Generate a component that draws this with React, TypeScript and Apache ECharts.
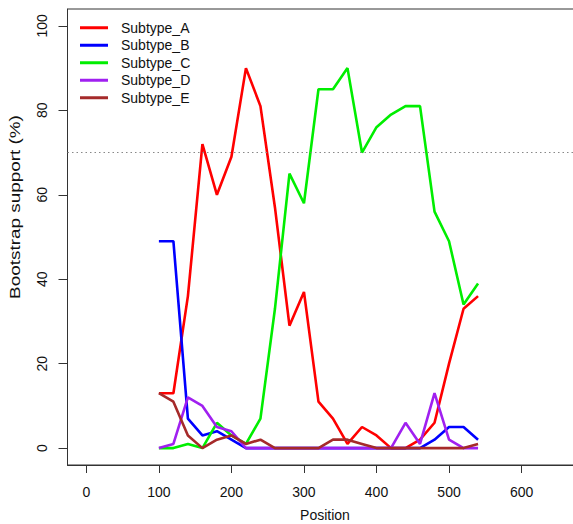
import React, { useEffect, useRef } from "react";
import * as echarts from "echarts";

const positions = [100, 120, 140, 160, 180, 200, 220, 240, 260, 280, 300, 320, 340, 360, 380, 400, 420, 440, 460, 480, 500, 520, 540];
const subtypeA = [13, 13, 36, 72, 60, 69, 90, 81, 57, 29, 37, 11, 7, 1, 5, 3, 0, 0, 2, 6, 20, 33, 36];
const subtypeB = [49, 49, 7, 3, 4, 2, 0, 0, 0, 0, 0, 0, 0, 0, 0, 0, 0, 0, 0, 2, 5, 5, 2];
const subtypeC = [0, 0, 1, 0, 6, 3, 1, 7, 33, 65, 58, 85, 85, 90, 70, 76, 79, 81, 81, 56, 49, 34, 39];
const subtypeD = [0, 1, 12, 10, 5, 4, 0, 0, 0, 0, 0, 0, 0, 0, 0, 0, 0, 6, 1, 13, 2, 0, 0];
const subtypeE = [13, 11, 3, 0, 2, 3, 1, 2, 0, 0, 0, 0, 2, 2, 1, 0, 0, 0, 0, 0, 0, 0, 1];

const seriesNames = ["Subtype_A", "Subtype_B", "Subtype_C", "Subtype_D", "Subtype_E"];
const seriesValues = [subtypeA, subtypeB, subtypeC, subtypeD, subtypeE];
const seriesColors = ["#ff0000", "#0000ff", "#00ee00", "#a020f0", "#a52a2a"];

const xTicks = [0, 100, 200, 300, 400, 500, 600];
const yTicks = [0, 20, 40, 60, 80, 100];
const threshold = 70;

const FONT = "Liberation Sans, Arial, Helvetica, sans-serif";

export default function App() {
  const ref = useRef<HTMLDivElement>(null);
  useEffect(() => {
    if (!ref.current) return;
    const chart = echarts.init(ref.current, null, { renderer: "svg" });
    const series: any[] = seriesNames.map((name, i) => ({
      name,
      type: "line",
      data: positions.map((p, j) => [p, seriesValues[i][j]]),
      showSymbol: false,
      symbol: "none",
      lineStyle: { color: seriesColors[i], width: 2.6 },
      itemStyle: { color: seriesColors[i] },
      z: 2 + i,
    }));
    series[0].markLine = {
      silent: true,
      symbol: ["none", "none"],
      label: { show: false },
      lineStyle: { color: "#888", type: [1.5, 3], width: 1 },
      data: [{ yAxis: threshold }],
    };
    chart.setOption({
      animation: false,
      backgroundColor: "#fff",
      textStyle: { fontFamily: FONT },
      grid: {
        left: 67.5,
        top: 9,
        width: 515,
        height: 456,
        outerBoundsMode: "none",
        containLabel: false,
        show: true,
        borderColor: "#333",
        borderWidth: 1,
        backgroundColor: "transparent",
      },
      legend: {
        orient: "vertical",
        left: 80,
        top: 19,
        padding: 0,
        icon: "rect",
        itemWidth: 28,
        itemHeight: 3,
        itemGap: 0,
        textStyle: {
          fontFamily: FONT,
          fontSize: 14,
          color: "#111",
          lineHeight: 17.5,
          padding: [0, 0, 0, 8],
        },
        data: seriesNames,
      },
      xAxis: {
        type: "value",
        min: -26,
        max: 684,
        splitLine: { show: false },
        axisLine: { show: true, onZero: false, lineStyle: { color: "#333", width: 1 } },
        axisTick: { show: true, length: 8, customValues: xTicks, lineStyle: { color: "#333" } },
        axisLabel: { customValues: xTicks, margin: 20, fontSize: 14, color: "#111", fontFamily: FONT },
        name: "Position",
        nameLocation: "middle",
        nameGap: 43,
        nameTextStyle: { fontSize: 14, color: "#111", fontFamily: FONT },
      },
      yAxis: {
        type: "value",
        min: -4,
        max: 104,
        splitLine: { show: false },
        axisLine: { show: true, onZero: false, lineStyle: { color: "#333", width: 1 } },
        axisTick: { show: true, length: 9, customValues: yTicks, lineStyle: { color: "#333" } },
        axisLabel: { customValues: yTicks, margin: 19, fontSize: 14, color: "#111", rotate: 90, fontFamily: FONT },
      },
      graphic: [
        {
          type: "text",
          x: 15,
          y: 207,
          rotation: Math.PI / 2,
          scaleX: 1.35,
          style: {
            text: "Bootstrap support (%)",
            fontSize: 14,
            fontFamily: FONT,
            fill: "#111",
            align: "center",
            verticalAlign: "middle",
          },
        },
      ],
      series,
    });
    return () => chart.dispose();
  }, []);
  return (
    <div
      ref={ref}
      style={{ position: "fixed", left: 0, top: 0, width: 573, height: 524, background: "#fff" }}
    />
  );
}
